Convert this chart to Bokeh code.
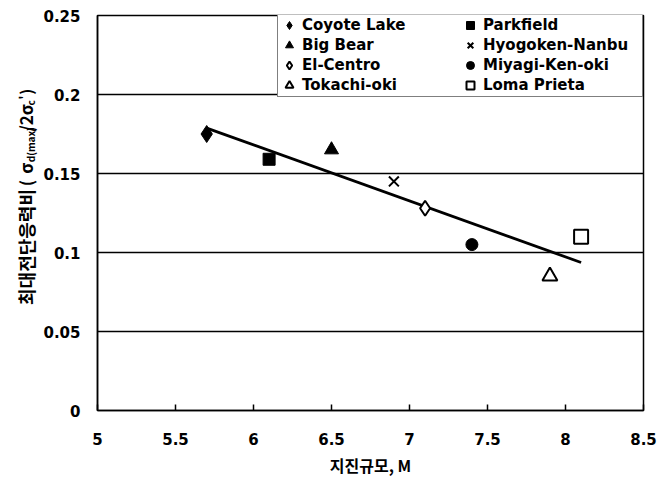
import numpy as np
from bokeh.plotting import figure
from bokeh.layouts import row
from bokeh.models import Legend, LegendItem, FixedTicker, Range1d
from bokeh.core.properties import value
from bokeh.embed import file_html
from bokeh.resources import INLINE

# ---- data ----
events = ["Coyote Lake", "Parkfield", "Big Bear", "Hyogoken-Nanbu",
          "El-Centro", "Miyagi-Ken-oki", "Tokachi-oki", "Loma Prieta"]
magnitude = [5.7, 6.1, 6.5, 6.9, 7.1, 7.4, 7.9, 8.1]
stress_ratio = [0.175, 0.159, 0.165, 0.145, 0.128, 0.105, 0.085, 0.110]
x_ticks = [5, 5.5, 6, 6.5, 7, 7.5, 8, 8.5]
y_ticks = [0, 0.05, 0.1, 0.15, 0.2, 0.25]

# marker styles (shape, filled, size)
styles = {
    "Coyote Lake": ("diamond", True, 17),
    "Parkfield": ("square", True, 12),
    "Big Bear": ("triangle", True, 14),
    "Hyogoken-Nanbu": ("x", False, 14),
    "El-Centro": ("diamond", False, 15),
    "Miyagi-Ken-oki": ("circle", True, 12),
    "Tokachi-oki": ("triangle", False, 15),
    "Loma Prieta": ("square", False, 14),
}

TICK_FONT = "DejaVu Sans"
KR_FONT = "Noto Sans CJK KR"
W, H = 659, 479
LAB_W = 38

# ---- narrow panel holding the rotated y-axis title (with subscripts) ----
lab = figure(width=LAB_W, height=H, output_backend="svg", toolbar_location=None,
             x_range=Range1d(0, LAB_W), y_range=Range1d(0, H),
             x_axis_location=None, y_axis_location=None,
             min_border=0, min_border_left=0, min_border_right=0,
             min_border_top=0, min_border_bottom=0)
lab.outline_line_color = None
lab.xgrid.visible = False
lab.ygrid.visible = False
lab.background_fill_color = "white"
lab.border_fill_color = "white"

# (text, bottom start pixel from top, font size, x shift)
pieces = [
    ("최대전단응력비", 351, "18px", 0),
    ("(", 207, "17px", 0),
    ("σ", 192, "17px", 0),
    ("d(max)", 178, "10px", 5),
    ("/2σ", 141, "17px", 0),
    ("c", 109, "10px", 5),
    ("'", 102, "12px", -3),
    (")", 96, "16px", 0),
]
for txt, py, fs, dx in pieces:
    lab.text(x=[25 + dx], y=[H - py], text=[txt], angle=np.pi / 2,
             text_align="left", text_baseline="middle",
             text_font=value(KR_FONT), text_font_style="bold",
             text_font_size=fs, text_color="black")

# ---- main chart ----
p = figure(width=W - LAB_W, height=H, output_backend="svg", toolbar_location=None,
           x_range=Range1d(5, 8.5), y_range=Range1d(0, 0.25),
           min_border_left=97 - LAB_W, min_border_right=16, min_border_top=15,
           min_border_bottom=69)
p.background_fill_color = "white"
p.border_fill_color = "white"
p.outline_line_color = "black"
p.outline_line_width = 1.5

p.xgrid.visible = False
p.ygrid.ticker = FixedTicker(ticks=y_ticks)
p.ygrid.grid_line_color = "black"
p.ygrid.grid_line_width = 1.5

p.xaxis.ticker = FixedTicker(ticks=x_ticks)
p.yaxis.ticker = FixedTicker(ticks=y_ticks)
p.xaxis.major_label_overrides = {t: ("%g" % t) for t in x_ticks}
p.yaxis.major_label_overrides = {t: ("%g" % t) for t in y_ticks}
for ax in (p.xaxis, p.yaxis):
    ax.axis_line_color = "black"
    ax.axis_line_width = 1.5
    ax.minor_tick_line_color = None
    ax.major_label_text_font = TICK_FONT
    ax.major_label_text_font_style = "bold"
    ax.major_label_text_font_size = "15px"
    ax.major_label_text_color = "black"
p.xaxis.major_tick_in = 6
p.xaxis.major_tick_out = 0
p.xaxis.major_tick_line_color = "black"
p.xaxis.major_tick_line_width = 1.5
p.xaxis.major_label_standoff = 22
p.yaxis.major_tick_in = 0
p.yaxis.major_tick_out = 0
p.yaxis.major_label_standoff = 17

p.xaxis.axis_label = "지진규모, M"
p.xaxis.axis_label_text_font = KR_FONT
p.xaxis.axis_label_text_font_style = "bold"
p.xaxis.axis_label_text_font_size = "16px"
p.xaxis.axis_label_text_color = "black"
p.xaxis.axis_label_standoff = 5

# trend line (least-squares fit of the data)
coef = np.polyfit(magnitude, stress_ratio, 1)
xfit = np.array([min(magnitude), max(magnitude)])
p.line(xfit, np.polyval(coef, xfit), line_color="black", line_width=2.8)

renderers = {}
for name, xv, yv in zip(events, magnitude, stress_ratio):
    marker, filled, size = styles[name]
    r = p.scatter([xv], [yv], marker=marker, size=size,
                  line_color="black", line_width=2 if not filled else 1,
                  fill_color="black" if filled else "white")
    renderers[name] = r

order = ["Coyote Lake", "Big Bear", "El-Centro", "Tokachi-oki",
         "Parkfield", "Hyogoken-Nanbu", "Miyagi-Ken-oki", "Loma Prieta"]
legend = Legend(items=[LegendItem(label=n, renderers=[renderers[n]]) for n in order],
                ncols=2, location=(180, 313), margin=0, padding=1,
                spacing=0, glyph_width=20, glyph_height=20, label_height=20,
                label_standoff=3, label_width=158,
                border_line_color="black", border_line_width=1.5,
                background_fill_alpha=1.0,
                label_text_font=TICK_FONT, label_text_font_style="bold",
                label_text_font_size="15px", label_text_color="black",
                label_text_baseline="middle")
p.add_layout(legend)

layout = row(lab, p, spacing=0)
open("out.html", "w").write(file_html(layout, INLINE))
